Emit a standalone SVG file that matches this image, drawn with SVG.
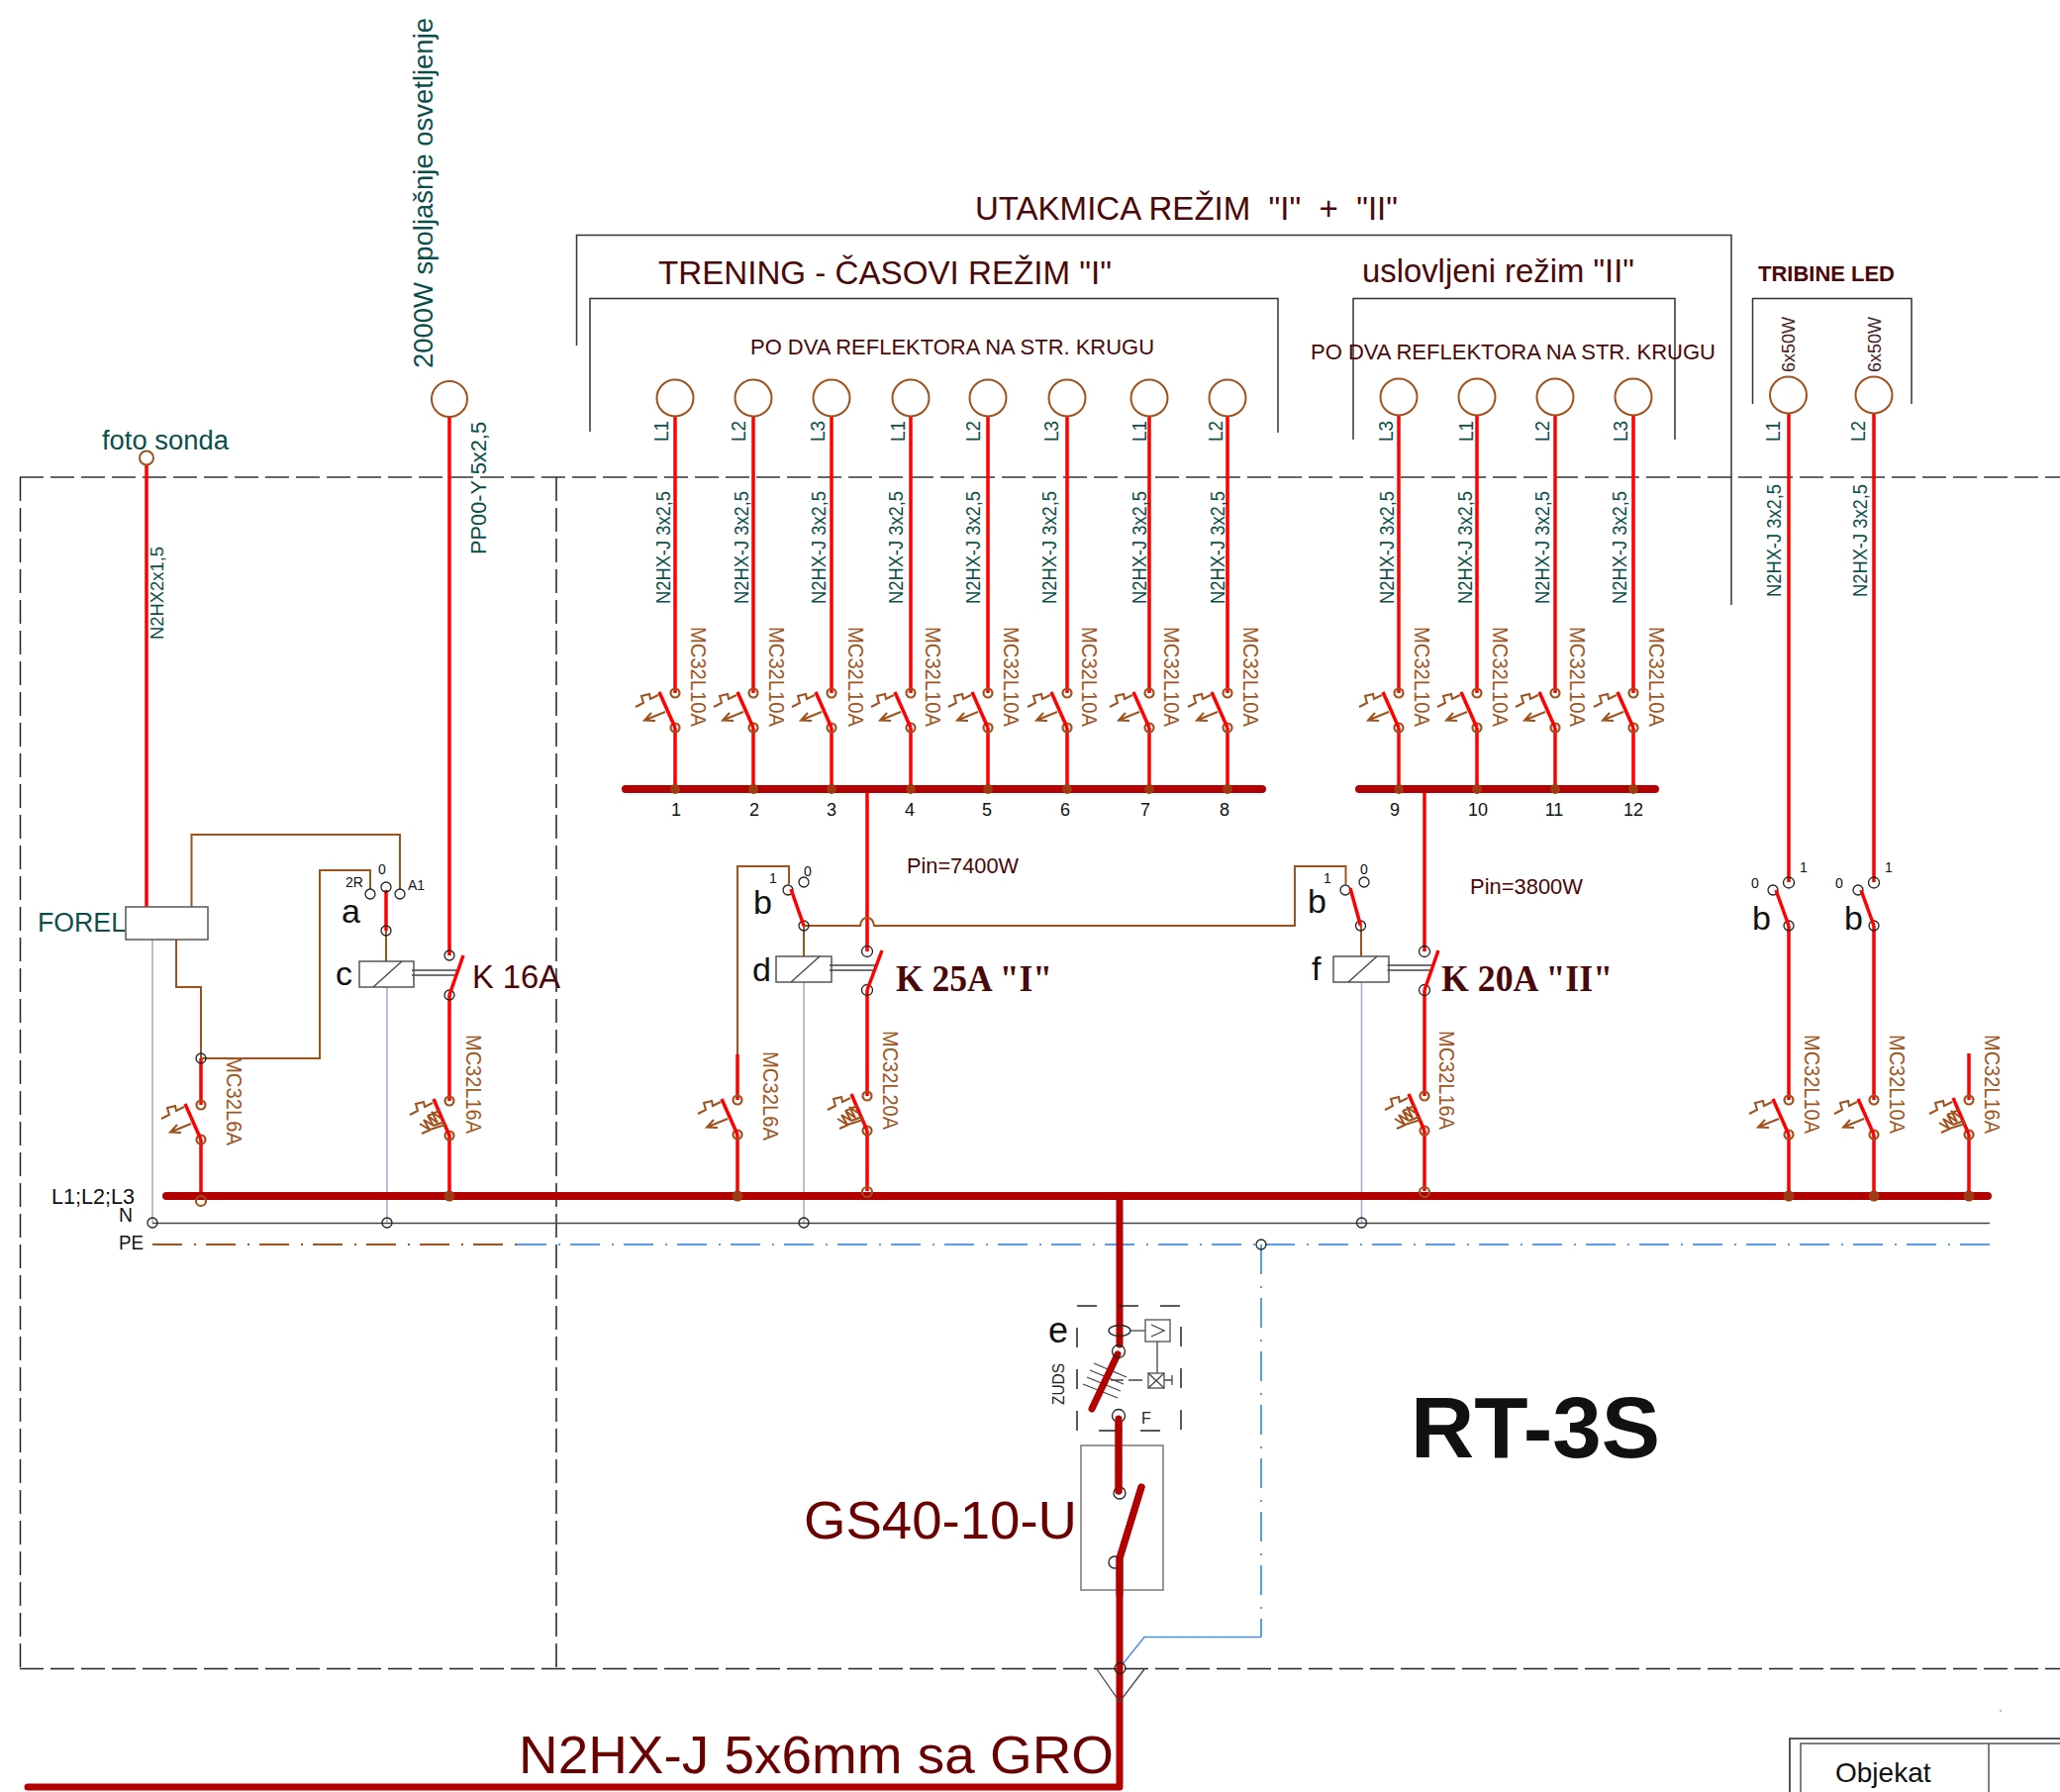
<svg xmlns="http://www.w3.org/2000/svg" width="2081" height="1810" viewBox="0 0 2081 1810">
<style>
text{font-family:"Liberation Sans",Arial,sans-serif;white-space:pre}
.teal{fill:#0b4f4a}.mar{fill:#4a0808}.brn{fill:#a0561f}.dred{fill:#6b0000}.blk{fill:#111}
.r{fill:none;stroke:#f00;stroke-width:3.5}
.b{fill:none;stroke:#a0521d;stroke-width:2}
.m{fill:none;stroke:#b30000;stroke-width:7;stroke-linecap:round}
.bus{fill:none;stroke:#b30000;stroke-width:8;stroke-linecap:round}
.bx{fill:none;stroke:#333;stroke-width:1.5}
.gr{fill:none;stroke:#a8a8cc;stroke-width:1.5}
.dg{fill:none;stroke:#666;stroke-width:2;stroke-dasharray:24 7}
.dk{fill:none;stroke:#222;stroke-width:1.5;stroke-dasharray:24 7}
.blue{fill:none;stroke:#5a9bee;stroke-width:2;stroke-dasharray:30 12 2 10}
.c{fill:none;stroke:#222;stroke-width:1.3}
.cb{fill:none;stroke:#a0521d;stroke-width:2.2}
.lamp{fill:none;stroke:#a0521d;stroke-width:2}
.coil{fill:#fff;stroke:#555;stroke-width:1.5}
.thin{fill:none;stroke:#444;stroke-width:1.3}
.dot{fill:#a03a10}
.v18{font-size:21px}.mc{font-size:22px}.s14{font-size:14px}.n18{font-size:18px;text-anchor:middle}.let{font-size:34px}
</style>
<defs>
<g id="zig"><polyline class="b" points="-40,14 -32,10 -34,3 -26,1 -25,6 -17,2"/></g>
<g id="brk"><circle class="cb" cx="0" cy="0" r="4.5"/><circle class="cb" cx="0" cy="35" r="4.5"/><line class="r" x1="-16" y1="-1" x2="0" y2="35"/><use href="#zig"/><path class="b" d="M-10,19L-31,27.5M-24,20L-31,27.5L-20,28"/></g>
<g id="brk16"><circle class="cb" cx="0" cy="0" r="4.5"/><circle class="cb" cx="0" cy="35" r="4.5"/><line class="r" x1="-16" y1="-2" x2="0" y2="35"/><use href="#zig"/><path class="b" d="M-30,23L-20,29L-26,19L-16,25L-22,15L-12,22L-18,11L-8,18M-16,25L-5,21M-22,15L-10,10M-20,29L-4,24M-28,33L-19,29"/></g>
<g id="dbl"><line class="thin" x1="0" y1="0" x2="46" y2="0"/><line class="thin" x1="0" y1="5" x2="46" y2="5"/></g>
</defs>

<g id="frames">
<line class="dg" x1="20" y1="482" x2="2081" y2="482"/>
<line class="dk" x1="20.5" y1="482" x2="20.5" y2="1685"/>
<line class="dk" x1="562" y1="482" x2="562" y2="1685"/>
<line class="dk" x1="20" y1="1685.5" x2="2081" y2="1685.5"/>
<polyline class="bx" points="582.5,349 582.5,237.5 1749,237.5 1749,611"/>
<polyline class="bx" points="596,436 596,301.5 1291,301.5 1291,437"/>
<polyline class="bx" points="1367,444 1367,301.5 1692,301.5 1692,444"/>
<polyline class="bx" points="1770.5,408 1770.5,301.5 1931,301.5 1931,408"/>
<text class="mar" x="985" y="222" font-size="33" textLength="427" lengthAdjust="spacingAndGlyphs">UTAKMICA REŽIM  "I"  +  "II"</text>
<text class="mar" x="665" y="287" font-size="33" textLength="458" lengthAdjust="spacingAndGlyphs">TRENING - ČASOVI REŽIM "I"</text>
<text class="mar" x="1376" y="285" font-size="33" textLength="275" lengthAdjust="spacingAndGlyphs">uslovljeni režim "II"</text>
<text class="mar" x="758" y="358" font-size="22" textLength="408" lengthAdjust="spacingAndGlyphs">PO DVA REFLEKTORA NA STR. KRUGU</text>
<text class="mar" x="1324" y="363" font-size="22" textLength="409" lengthAdjust="spacingAndGlyphs">PO DVA REFLEKTORA NA STR. KRUGU</text>
<text class="mar" x="1776" y="284" font-size="22" font-weight="bold" textLength="138" lengthAdjust="spacingAndGlyphs">TRIBINE LED</text>
<text class="blk" x="1425" y="1472" font-size="88" font-weight="bold" textLength="252" lengthAdjust="spacingAndGlyphs">RT-3S</text>
</g>

<g id="connectors">
<path class="r" d="M148,470V916M454,420V965M454,1005V1112M454,1146V1208M203,1069V1116M203,1151V1208M390,899V940"/>
<path class="r" d="M682,420V700M682,735V797M761,420V700M761,735V797M840,420V700M840,735V797M920,420V700M920,735V797M998,420V700M998,735V797M1078,420V700M1078,735V797M1161,420V700M1161,735V797M1240,420V700M1240,735V797"/>
<path class="r" d="M1413,420V700M1413,735V797M1492,420V700M1492,735V797M1571,420V700M1571,735V797M1650,420V700M1650,735V797"/>
<path class="r" d="M876,797V961M876,1000V1107M876,1142V1203M745,1065V1111M745,1146V1208M1439,797V961M1439,1000V1107M1439,1142V1203"/>
<path class="r" d="M1807,418V891M1807,935V1111M1807,1146V1208M1893,418V891M1893,935V1111M1893,1146V1208M1989,1064V1111M1989,1146V1208"/>
<path class="b" d="M193.5,916V843H404V898M374,898V879H323V1069H203M178,949V997H203V1069M390,940V971"/>
<path class="b" d="M797,893V875H745V1065M812,935V966M812,935H869Q870,927 876,927Q882,927 883,935H1308V875H1359.5V893M1375,935V966"/>
<path class="gr" d="M154,949V1235M391,997V1235M812,992V1235M1375.5,992V1235"/>
<line x1="154" y1="1235.5" x2="2010" y2="1235.5" stroke="#444" stroke-width="1.5"/>
<line class="blue" x1="522" y1="1257" x2="2010" y2="1257"/>
<line x1="154" y1="1257" x2="522" y2="1257" fill="none" stroke="#a0521d" stroke-width="2" stroke-dasharray="30 12 2 10"/>
<path class="blue" d="M1274,1257V1653.5"/>
<path d="M1274,1653.5H1156L1134,1681" fill="none" stroke="#4a90e8" stroke-width="1.5"/>
<line class="bus" x1="632" y1="797" x2="1275" y2="797"/>
<line class="bus" x1="1373" y1="797" x2="1672" y2="797"/>
<line class="bus" x1="168" y1="1208" x2="2008" y2="1208"/>
<path class="m" stroke-linecap="butt" d="M1131,1208V1358"/>
<line class="m" x1="1130" y1="1436" x2="1130" y2="1506"/>
<path class="m" stroke-linejoin="round" d="M1153,1502L1131,1574V1805H28"/>
<g class="dot"><circle cx="682" cy="797" r="5"/><circle cx="761" cy="797" r="5"/><circle cx="840" cy="797" r="5"/><circle cx="920" cy="797" r="5"/><circle cx="998" cy="797" r="5"/><circle cx="1078" cy="797" r="5"/><circle cx="1161" cy="797" r="5"/><circle cx="1240" cy="797" r="5"/><circle cx="1413" cy="797" r="5"/><circle cx="1492" cy="797" r="5"/><circle cx="1571" cy="797" r="5"/><circle cx="1650" cy="797" r="5"/><circle cx="454" cy="1208" r="5.5"/><circle cx="745" cy="1208" r="5.5"/><circle cx="1807" cy="1208" r="5.5"/><circle cx="1893" cy="1208" r="5.5"/><circle cx="1989" cy="1208" r="5.5"/></g>
<circle class="cb" cx="203" cy="1213" r="5"/><circle class="cb" cx="876" cy="1204" r="5"/><circle class="cb" cx="1439" cy="1204" r="5"/>
<g class="c"><circle cx="154" cy="1235" r="5"/><circle cx="391" cy="1235" r="5"/><circle cx="812" cy="1235" r="5"/><circle cx="1375.5" cy="1235" r="5"/><circle cx="1274" cy="1257" r="5"/><circle cx="1131.5" cy="1685" r="5.5"/></g>
<polyline class="thin" points="1108,1686 1131,1719 1156,1686"/>
</g>

<g id="bus-labels">
<text class="blk" x="52" y="1216" font-size="22" textLength="84" lengthAdjust="spacingAndGlyphs">L1;L2;L3</text>
<text class="blk" x="120" y="1234" font-size="20" textLength="14" lengthAdjust="spacingAndGlyphs">N</text>
<text class="blk" x="120" y="1262" font-size="20" textLength="25" lengthAdjust="spacingAndGlyphs">PE</text>
<g class="n18 blk" fill="#222"><text x="683" y="824">1</text><text x="762" y="824">2</text><text x="840" y="824">3</text><text x="919" y="824">4</text><text x="997" y="824">5</text><text x="1076" y="824">6</text><text x="1157" y="824">7</text><text x="1237" y="824">8</text><text x="1409" y="824">9</text><text x="1493" y="824">10</text><text x="1570" y="824">11</text><text x="1650" y="824">12</text></g>
<text class="mar" x="916" y="882" font-size="21.5" textLength="113" lengthAdjust="spacingAndGlyphs">Pin=7400W</text>
<text class="mar" x="1485" y="903" font-size="21.5" textLength="114" lengthAdjust="spacingAndGlyphs">Pin=3800W</text>
</g>

<g id="foto-sonda">
<circle class="lamp" cx="148" cy="462.5" r="7"/>
<text class="teal" x="103" y="453.5" font-size="27" textLength="128" lengthAdjust="spacingAndGlyphs">foto sonda</text>
<text class="teal" x="165" y="646" font-size="18.5" transform="rotate(-90 165 646)" textLength="94" lengthAdjust="spacingAndGlyphs">N2HX2x1,5</text>
</g>
<g id="forel">
<rect x="127" y="916" width="83" height="33" class="coil" stroke="#333"/>
<text class="teal" x="38" y="941" font-size="27" textLength="89" lengthAdjust="spacingAndGlyphs">FOREL</text>
</g>
<g id="breaker-forel"><use href="#brk" x="203" y="1116"/><circle class="c" cx="203" cy="1069" r="5"/>
<text class="brn mc" x="229" y="1067" transform="rotate(90 229 1067)" textLength="90" lengthAdjust="spacingAndGlyphs">MC32L6A</text></g>
<g id="selector-a">
<circle class="c" cx="374" cy="903" r="5"/><circle class="c" cx="390" cy="896" r="5"/><circle class="c" cx="404" cy="903" r="5"/><circle class="c" cx="390" cy="940" r="5"/>
<text class="s14 blk" x="349" y="896">2R</text><text class="s14 blk" x="382" y="883">0</text><text class="s14 blk" x="412" y="899">A1</text>
<text class="let blk" x="345" y="932">a</text>
</g>
<g id="contactor-c">
<rect x="363" y="971" width="55" height="26" class="coil"/><line class="thin" x1="377" y1="997" x2="406" y2="971"/>
<text class="let blk" x="339" y="995">c</text>
<use href="#dbl" x="416" y="980"/>
<circle class="c" cx="454" cy="965" r="5"/><circle class="c" cx="454" cy="1005" r="5"/><line class="r" x1="468" y1="965" x2="454" y2="1005"/>
<text class="mar" x="477" y="998" font-size="33" textLength="89" lengthAdjust="spacingAndGlyphs">K 16A</text>
</g>
<g id="lamp-2000w">
<circle class="lamp" cx="454" cy="403" r="18"/>
<text class="teal" x="437" y="372" font-size="27.5" transform="rotate(-90 437 372)" textLength="354" lengthAdjust="spacingAndGlyphs">2000W spoljašnje osvetljenje</text>
<text class="teal" x="491" y="560" font-size="21.5" transform="rotate(-90 491 560)" textLength="134" lengthAdjust="spacingAndGlyphs">PP00-Y 5x2,5</text>
</g>
<g id="breaker-c"><use href="#brk16" x="454" y="1112"/>
<text class="brn mc" x="471" y="1045" transform="rotate(90 471 1045)" textLength="100" lengthAdjust="spacingAndGlyphs">MC32L16A</text></g>

<g id="c1"><circle class="lamp" cx="682" cy="402" r="18.5"/><use href="#brk" x="682" y="700"/>
<text class="teal v18" x="675" y="446" transform="rotate(-90 675 446)" textLength="21" lengthAdjust="spacingAndGlyphs">L1</text>
<text class="teal v18" x="677" y="610" transform="rotate(-90 677 610)" textLength="114" lengthAdjust="spacingAndGlyphs">N2HX-J 3x2,5</text>
<text class="brn mc" x="698" y="633" transform="rotate(90 698 633)" textLength="101" lengthAdjust="spacingAndGlyphs">MC32L10A</text></g>
<g id="c2"><circle class="lamp" cx="761" cy="402" r="18.5"/><use href="#brk" x="761" y="700"/>
<text class="teal v18" x="753" y="446" transform="rotate(-90 753 446)" textLength="21" lengthAdjust="spacingAndGlyphs">L2</text>
<text class="teal v18" x="756" y="610" transform="rotate(-90 756 610)" textLength="114" lengthAdjust="spacingAndGlyphs">N2HX-J 3x2,5</text>
<text class="brn mc" x="777" y="633" transform="rotate(90 777 633)" textLength="101" lengthAdjust="spacingAndGlyphs">MC32L10A</text></g>
<g id="c3"><circle class="lamp" cx="840" cy="402" r="18.5"/><use href="#brk" x="840" y="700"/>
<text class="teal v18" x="833" y="446" transform="rotate(-90 833 446)" textLength="21" lengthAdjust="spacingAndGlyphs">L3</text>
<text class="teal v18" x="834" y="610" transform="rotate(-90 834 610)" textLength="114" lengthAdjust="spacingAndGlyphs">N2HX-J 3x2,5</text>
<text class="brn mc" x="857" y="633" transform="rotate(90 857 633)" textLength="101" lengthAdjust="spacingAndGlyphs">MC32L10A</text></g>
<g id="c4"><circle class="lamp" cx="920" cy="402" r="18.5"/><use href="#brk" x="920" y="700"/>
<text class="teal v18" x="914" y="446" transform="rotate(-90 914 446)" textLength="21" lengthAdjust="spacingAndGlyphs">L1</text>
<text class="teal v18" x="912" y="610" transform="rotate(-90 912 610)" textLength="114" lengthAdjust="spacingAndGlyphs">N2HX-J 3x2,5</text>
<text class="brn mc" x="935" y="633" transform="rotate(90 935 633)" textLength="101" lengthAdjust="spacingAndGlyphs">MC32L10A</text></g>
<g id="c5"><circle class="lamp" cx="998" cy="402" r="18.5"/><use href="#brk" x="998" y="700"/>
<text class="teal v18" x="990" y="446" transform="rotate(-90 990 446)" textLength="21" lengthAdjust="spacingAndGlyphs">L2</text>
<text class="teal v18" x="990" y="610" transform="rotate(-90 990 610)" textLength="114" lengthAdjust="spacingAndGlyphs">N2HX-J 3x2,5</text>
<text class="brn mc" x="1014" y="633" transform="rotate(90 1014 633)" textLength="101" lengthAdjust="spacingAndGlyphs">MC32L10A</text></g>
<g id="c6"><circle class="lamp" cx="1078" cy="402" r="18.5"/><use href="#brk" x="1078" y="700"/>
<text class="teal v18" x="1069" y="446" transform="rotate(-90 1069 446)" textLength="21" lengthAdjust="spacingAndGlyphs">L3</text>
<text class="teal v18" x="1067" y="610" transform="rotate(-90 1067 610)" textLength="114" lengthAdjust="spacingAndGlyphs">N2HX-J 3x2,5</text>
<text class="brn mc" x="1093" y="633" transform="rotate(90 1093 633)" textLength="101" lengthAdjust="spacingAndGlyphs">MC32L10A</text></g>
<g id="c7"><circle class="lamp" cx="1161" cy="402" r="18.5"/><use href="#brk" x="1161" y="700"/>
<text class="teal v18" x="1158" y="446" transform="rotate(-90 1158 446)" textLength="21" lengthAdjust="spacingAndGlyphs">L1</text>
<text class="teal v18" x="1158" y="610" transform="rotate(-90 1158 610)" textLength="114" lengthAdjust="spacingAndGlyphs">N2HX-J 3x2,5</text>
<text class="brn mc" x="1176" y="633" transform="rotate(90 1176 633)" textLength="101" lengthAdjust="spacingAndGlyphs">MC32L10A</text></g>
<g id="c8"><circle class="lamp" cx="1240" cy="402" r="18.5"/><use href="#brk" x="1240" y="700"/>
<text class="teal v18" x="1235" y="446" transform="rotate(-90 1235 446)" textLength="21" lengthAdjust="spacingAndGlyphs">L2</text>
<text class="teal v18" x="1237" y="610" transform="rotate(-90 1237 610)" textLength="114" lengthAdjust="spacingAndGlyphs">N2HX-J 3x2,5</text>
<text class="brn mc" x="1256" y="633" transform="rotate(90 1256 633)" textLength="101" lengthAdjust="spacingAndGlyphs">MC32L10A</text></g>
<g id="c9"><circle class="lamp" cx="1413" cy="401" r="18.5"/><use href="#brk" x="1413" y="700"/>
<text class="teal v18" x="1407" y="446" transform="rotate(-90 1407 446)" textLength="21" lengthAdjust="spacingAndGlyphs">L3</text>
<text class="teal v18" x="1408" y="610" transform="rotate(-90 1408 610)" textLength="114" lengthAdjust="spacingAndGlyphs">N2HX-J 3x2,5</text>
<text class="brn mc" x="1428.5" y="633" transform="rotate(90 1428.5 633)" textLength="101" lengthAdjust="spacingAndGlyphs">MC32L10A</text></g>
<g id="c10"><circle class="lamp" cx="1492" cy="401" r="18.5"/><use href="#brk" x="1492" y="700"/>
<text class="teal v18" x="1488" y="446" transform="rotate(-90 1488 446)" textLength="21" lengthAdjust="spacingAndGlyphs">L1</text>
<text class="teal v18" x="1487" y="610" transform="rotate(-90 1487 610)" textLength="114" lengthAdjust="spacingAndGlyphs">N2HX-J 3x2,5</text>
<text class="brn mc" x="1508" y="633" transform="rotate(90 1508 633)" textLength="101" lengthAdjust="spacingAndGlyphs">MC32L10A</text></g>
<g id="c11"><circle class="lamp" cx="1571" cy="401" r="18.5"/><use href="#brk" x="1571" y="700"/>
<text class="teal v18" x="1565" y="446" transform="rotate(-90 1565 446)" textLength="21" lengthAdjust="spacingAndGlyphs">L2</text>
<text class="teal v18" x="1565" y="610" transform="rotate(-90 1565 610)" textLength="114" lengthAdjust="spacingAndGlyphs">N2HX-J 3x2,5</text>
<text class="brn mc" x="1586" y="633" transform="rotate(90 1586 633)" textLength="101" lengthAdjust="spacingAndGlyphs">MC32L10A</text></g>
<g id="c12"><circle class="lamp" cx="1650" cy="401" r="18.5"/><use href="#brk" x="1650" y="700"/>
<text class="teal v18" x="1644" y="446" transform="rotate(-90 1644 446)" textLength="21" lengthAdjust="spacingAndGlyphs">L3</text>
<text class="teal v18" x="1643" y="610" transform="rotate(-90 1643 610)" textLength="114" lengthAdjust="spacingAndGlyphs">N2HX-J 3x2,5</text>
<text class="brn mc" x="1666" y="633" transform="rotate(90 1666 633)" textLength="101" lengthAdjust="spacingAndGlyphs">MC32L10A</text></g>

<g id="selector-b1">
<circle class="c" cx="796" cy="899" r="5"/><circle class="c" cx="812" cy="891" r="5"/><circle class="c" cx="812" cy="935" r="5"/><line class="r" x1="799" y1="898" x2="812" y2="935"/>
<text class="s14 blk" x="777" y="892">1</text><text class="s14 blk" x="812" y="885">0</text><text class="let blk" x="761" y="923">b</text>
</g>
<g id="contactor-d">
<rect x="784" y="966" width="56" height="26" class="coil"/><line class="thin" x1="799" y1="992" x2="828" y2="966"/>
<text class="let blk" x="760" y="991">d</text>
<use href="#dbl" x="838" y="975"/>
<circle class="c" cx="876" cy="961" r="5.5"/><circle class="c" cx="876" cy="1000" r="5.5"/><line class="r" x1="891" y1="960" x2="876" y2="1000"/>
<text class="mar" x="905" y="1001" font-size="37" font-weight="bold" style="font-family:'Liberation Serif',serif" textLength="158" lengthAdjust="spacingAndGlyphs">K 25A "I"</text>
</g>
<g id="breaker-d"><use href="#brk16" x="876" y="1107"/>
<text class="brn mc" x="892" y="1041" transform="rotate(90 892 1041)" textLength="100" lengthAdjust="spacingAndGlyphs">MC32L20A</text></g>
<g id="breaker-b1"><use href="#brk" x="745" y="1111"/>
<text class="brn mc" x="771" y="1062" transform="rotate(90 771 1062)" textLength="90" lengthAdjust="spacingAndGlyphs">MC32L6A</text></g>

<g id="selector-b2">
<circle class="c" cx="1359" cy="899" r="5"/><circle class="c" cx="1378" cy="891" r="5"/><circle class="c" cx="1374.5" cy="935" r="5"/><line class="r" x1="1364" y1="897" x2="1374.5" y2="935"/>
<text class="s14 blk" x="1337" y="892">1</text><text class="s14 blk" x="1374" y="883">0</text><text class="let blk" x="1321" y="922">b</text>
</g>
<g id="contactor-f">
<rect x="1347" y="966" width="56" height="26" class="coil"/><line class="thin" x1="1362" y1="992" x2="1391" y2="966"/>
<text class="let blk" x="1325" y="990">f</text>
<use href="#dbl" x="1401.5" y="975"/>
<circle class="c" cx="1439" cy="961" r="5.5"/><circle class="c" cx="1439" cy="1000" r="5.5"/><line class="r" x1="1453" y1="960" x2="1439" y2="1000"/>
<text class="mar" x="1456" y="1001" font-size="37" font-weight="bold" style="font-family:'Liberation Serif',serif" textLength="173" lengthAdjust="spacingAndGlyphs">K 20A "II"</text>
</g>
<g id="breaker-f"><use href="#brk16" x="1439" y="1107"/>
<text class="brn mc" x="1454" y="1041" transform="rotate(90 1454 1041)" textLength="100" lengthAdjust="spacingAndGlyphs">MC32L16A</text></g>

<g id="t1"><circle class="lamp" cx="1806.5" cy="399" r="18.5"/>
<text x="1813" y="376" font-size="19" fill="#4a2020" transform="rotate(-90 1813 376)" textLength="56" lengthAdjust="spacingAndGlyphs">6x50W</text>
<text class="teal v18" x="1798" y="446" transform="rotate(-90 1798 446)" textLength="21" lengthAdjust="spacingAndGlyphs">L1</text>
<text class="teal v18" x="1799" y="603" transform="rotate(-90 1799 603)" textLength="114" lengthAdjust="spacingAndGlyphs">N2HX-J 3x2,5</text>
<circle class="c" cx="1807" cy="891.5" r="5.5"/><circle class="c" cx="1791" cy="899" r="5"/><circle class="c" cx="1807" cy="935" r="5"/><line class="r" x1="1794" y1="899" x2="1807" y2="935"/>
<text class="s14 blk" x="1818" y="881">1</text><text class="s14 blk" x="1769" y="897">0</text><text class="let blk" x="1770" y="939">b</text>
<use href="#brk" x="1807" y="1111"/>
<text class="brn mc" x="1823" y="1045" transform="rotate(90 1823 1045)" textLength="100" lengthAdjust="spacingAndGlyphs">MC32L10A</text></g>
<g id="t2"><circle class="lamp" cx="1893" cy="399" r="18.5"/>
<text x="1900" y="376" font-size="19" fill="#4a2020" transform="rotate(-90 1900 376)" textLength="56" lengthAdjust="spacingAndGlyphs">6x50W</text>
<text class="teal v18" x="1884" y="446" transform="rotate(-90 1884 446)" textLength="21" lengthAdjust="spacingAndGlyphs">L2</text>
<text class="teal v18" x="1886" y="603" transform="rotate(-90 1886 603)" textLength="114" lengthAdjust="spacingAndGlyphs">N2HX-J 3x2,5</text>
<circle class="c" cx="1893" cy="891.5" r="5.5"/><circle class="c" cx="1877" cy="899" r="5"/><circle class="c" cx="1893" cy="935" r="5"/><line class="r" x1="1880" y1="899" x2="1893" y2="935"/>
<text class="s14 blk" x="1904" y="881">1</text><text class="s14 blk" x="1854" y="897">0</text><text class="let blk" x="1863" y="939">b</text>
<use href="#brk" x="1893" y="1111"/>
<text class="brn mc" x="1909" y="1045" transform="rotate(90 1909 1045)" textLength="100" lengthAdjust="spacingAndGlyphs">MC32L10A</text></g>
<g id="t3"><use href="#brk16" x="1989" y="1111"/>
<text class="brn mc" x="2005" y="1045" transform="rotate(90 2005 1045)" textLength="100" lengthAdjust="spacingAndGlyphs">MC32L16A</text></g>

<g id="zuds-e">
<rect x="1088" y="1319" width="105" height="126" fill="none" stroke="#222" stroke-width="1.5" stroke-dasharray="20 22"/>
<ellipse cx="1131" cy="1344" rx="11" ry="5.5" class="c"/>
<line class="thin" x1="1142" y1="1344" x2="1157" y2="1344"/>
<rect x="1157" y="1333" width="25" height="22" fill="#fff" stroke="#666" stroke-width="1.5"/>
<polyline class="thin" points="1163,1338 1176,1344 1163,1350"/>
<line class="thin" x1="1169" y1="1355" x2="1169" y2="1387"/>
<rect x="1160" y="1387" width="16" height="15" fill="#fff" stroke="#666" stroke-width="1.5"/>
<path class="thin" d="M1160,1387L1176,1402M1176,1387L1160,1402M1176,1394H1184M1184,1389V1399M1140,1394H1154M1122,1394H1135M1105,1377L1138,1391M1101,1384L1135,1398M1098,1391L1132,1405M1094,1398L1129,1412"/>
<line class="m" x1="1129" y1="1368" x2="1103" y2="1423"/>
<circle class="c" cx="1130" cy="1365" r="6.5"/><circle class="c" cx="1130" cy="1430" r="6.5"/>
<line class="m" stroke-linecap="butt" x1="1130" y1="1433" x2="1130" y2="1445"/>
<text class="blk" x="1059" y="1356" font-size="36">e</text>
<text x="1075" y="1419" font-size="17" fill="#222" transform="rotate(-90 1075 1419)" textLength="42" lengthAdjust="spacingAndGlyphs">ZUDS</text>
<text x="1153" y="1438" font-size="16" fill="#222">F</text>
</g>
<g id="gs40">
<rect x="1092" y="1460" width="83" height="146" fill="none" stroke="#777" stroke-width="1.5"/>
<circle class="c" cx="1131" cy="1508" r="6"/><circle class="c" cx="1126" cy="1578" r="6"/>
<line class="m" x1="1130" y1="1445" x2="1130" y2="1506"/>
<path class="m" d="M1153,1502L1131,1574V1610"/>
<text class="dred" x="812" y="1554" font-size="54" textLength="276" lengthAdjust="spacingAndGlyphs">GS40-10-U</text>
</g>
<g id="feeder-label"><text class="dred" x="524" y="1791" font-size="54" textLength="601" lengthAdjust="spacingAndGlyphs">N2HX-J 5x6mm sa GRO</text></g>
<g id="title-block">
<path fill="none" stroke="#222" stroke-width="1.5" d="M1808,1810V1756H2081"/>
<path fill="none" stroke="#555" stroke-width="1.5" d="M1819,1810V1761H2081M2009,1761V1810"/>
<text class="blk" x="1854" y="1800" font-size="28">Objekat</text>
<rect x="2020" y="1727" width="2" height="2" fill="#bbb"/>
</g>
</svg>
